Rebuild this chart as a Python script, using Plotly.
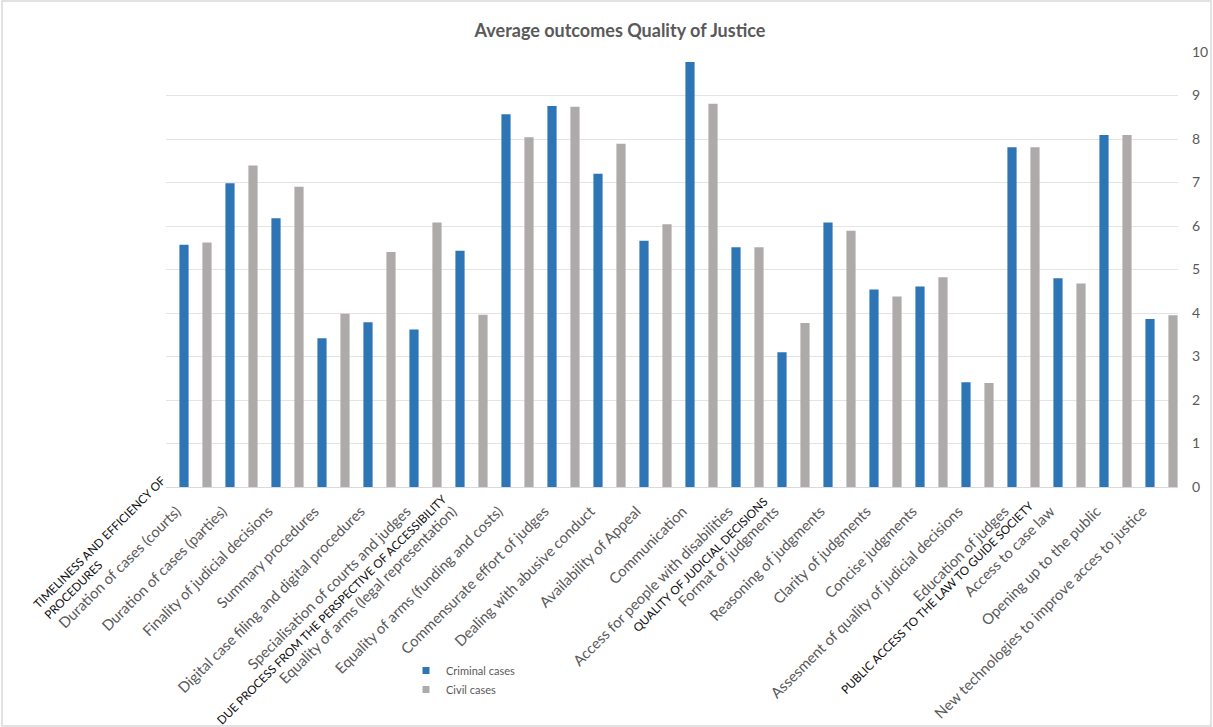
"""Average outcomes Quality of Justice: clustered bars, criminal vs civil cases."""
import plotly.graph_objects as go

COLORS = {
    'criminal': '#2E75B6',
    'civil': '#AEAAAA',
    'text': '#595959',
    'header': '#0d0d0d',
    'grid': '#E4E4E4',
    'border': '#D9D9D9',
}
FONT = 'Lato, "Open Sans", sans-serif'

items = [
    'Duration of cases (courts)', 'Duration of cases (parties)',
    'Finality of judicial decisions', 'Summary procedures',
    'Digital case filing and digital procedures', 'Specialisation of courts and judges',
    'Equality of arms (legal representation)', 'Equality of arms (funding and costs)',
    'Commensurate effort of judges', 'Dealing with abusive conduct',
    'Availability of Appeal', 'Communication', 'Access for people with disabilities',
    'Format of judgments', 'Reasoning of judgments', 'Clarity of judgments',
    'Concise judgments', 'Assesment of quality of judicial decisions', 'Education of judges',
    'Access to case law', 'Opening up to the public',
    'New technologies to improve acces to justice',
]
criminal = [5.57, 6.98, 6.18, 3.42, 3.79, 3.62, 5.43, 8.57, 8.76, 7.20, 5.66,
            9.77, 5.51, 3.10, 6.08, 4.54, 4.61, 2.41, 7.81, 4.80, 8.09, 3.86]
civil = [5.62, 7.39, 6.90, 3.98, 5.40, 6.08, 3.96, 8.04, 8.74, 7.89, 6.04,
         8.81, 5.51, 3.77, 5.89, 4.38, 4.82, 2.39, 7.81, 4.68, 8.09, 3.95]

# section headings shown in front of the first item of each section
section_start = ['Duration of cases (courts)', 'Equality of arms (legal representation)',
                 'Format of judgments', 'Access to case law']
section_title = ['TIMELINESS AND EFFICIENCY OF<br>PROCEDURES',
                 'DUE PROCESS FROM THE PERSPECTIVE OF ACCESSIBILITY',
                 'QUALITY OF JUDICIAL DECISIONS',
                 'PUBLIC ACCESS TO THE LAW TO GUIDE SOCIETY']

W, H = 1213, 727
L, R, T, B = 166, 35, 52, 240
PW, PH = W - L - R, H - T - B     # plot area in px
CAT = PW / len(items)             # px per category
OFFSET = 6.5 / CAT                # Excel leaves a little more room on the left


def build_chart():
    fig = go.Figure()
    fig.add_trace(go.Bar(x=items, y=criminal, name='Criminal cases',
                         marker=dict(color=COLORS['criminal'], line=dict(width=0)),
                         showlegend=False))
    fig.add_trace(go.Bar(x=items, y=civil, name='Civil cases',
                         marker=dict(color=COLORS['civil'], line=dict(width=0)),
                         showlegend=False))
    # small square legend keys, like the Excel original
    for name, col in [('Criminal cases', COLORS['criminal']), ('Civil cases', COLORS['civil'])]:
        fig.add_trace(go.Scatter(x=[None], y=[None], mode='markers', name=name,
                                 marker=dict(symbol='square', size=7, color=col)))

    # pixel nudges for the rotated headings (the Excel text boxes are not quite regular)
    nudges = [(-15, 16), (-21, -3), (-22, -6), (-32, -10)]
    for start, title, (dx, dy) in zip(section_start, section_title, nudges):
        fig.add_annotation(
            text=title, x=start, xref='x', y=0, yref='paper',
            xanchor='right', yanchor='top', textangle=-45, align='left',
            xshift=dx, yshift=dy, showarrow=False, borderpad=0,
            font=dict(family=FONT, size=11.7, color=COLORS['header']),
        )

    # light frame round the whole chart
    fig.add_shape(type='rect', xref='paper', yref='paper',
                  x0=(2 - L) / PW, x1=(1211 - L) / PW,
                  y0=(H - B - 726) / PH, y1=(H - B - 1) / PH,
                  line=dict(color=COLORS['border'], width=1.5))

    fig.update_layout(
        width=W, height=H, autosize=False,
        margin=dict(l=L, r=R, t=T, b=B),
        paper_bgcolor='white', plot_bgcolor='white',
        font=dict(family=FONT, color=COLORS['text']),
        title=dict(text='<b>Average outcomes Quality of Justice</b>',
                   x=620 / W, xanchor='center', y=1 - 31 / H, yanchor='middle',
                   font=dict(family=FONT, size=18, color=COLORS['text'])),
        barmode='group', bargap=0, bargroupgap=0.6,
        legend=dict(x=(406 - L) / PW, xanchor='left',
                    y=(H - B - 656) / PH, yanchor='top',
                    font=dict(family=FONT, size=11, color=COLORS['text']),
                    bgcolor='rgba(0,0,0,0)', tracegroupgap=0),
    )
    fig.update_xaxes(type='category', categoryorder='array', categoryarray=items,
                     range=[-0.5 - OFFSET, len(items) - 0.5 - OFFSET], autorange=False,
                     tickangle=-45, showgrid=False, showline=True,
                     linecolor=COLORS['border'], linewidth=1, ticks='',
                     ticklabelshift=-19, ticklabelstandoff=9,
                     tickfont=dict(family=FONT, size=14.8, color=COLORS['text']),
                     automargin=False)
    fig.update_yaxes(side='right', range=[0, 10], autorange=False, dtick=1, showgrid=True,
                     gridcolor=COLORS['grid'], gridwidth=1, zeroline=False,
                     showline=False, ticks='', ticklabelstandoff=13,
                     tickfont=dict(family=FONT, size=14, color=COLORS['text']),
                     automargin=False)
    return fig


if __name__ == '__main__':
    fig = build_chart()
    # no default body margin, so the figure fills the window exactly
    fig.write_html('out.html', config={'displayModeBar': False},
                   post_script="document.body.style.margin='0px';")
